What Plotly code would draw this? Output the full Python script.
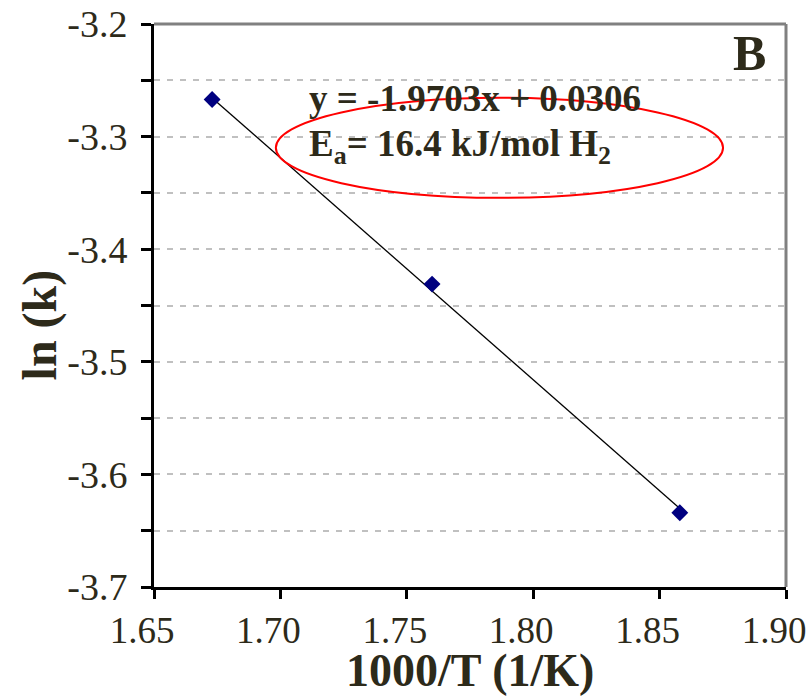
import plotly.graph_objects as go

# Data
inv_T = [1.673, 1.760, 1.858]          # 1000/T (1/K)
ln_k = [-3.267, -3.431, -3.634]        # ln(k)
slope = -1.9703
intercept = 0.0306
eq_text = "y = -1.9703x + 0.0306"
ea_text = "E<sub>a</sub>= 16.4 kJ/mol H<sub>2</sub>"
panel_label = "B"

x_ticks = [1.65, 1.70, 1.75, 1.80, 1.85, 1.90]
x_ticktext = ["1.65", "1.70", "1.75", "1.80", "1.85", "1.90"]
y_ticks = [-3.2, -3.3, -3.4, -3.5, -3.6, -3.7]
y_ticktext = ["-3.2", "-3.3", "-3.4", "-3.5", "-3.6", "-3.7"]

TXT = "#2d2a1a"
SERIF = "Liberation Serif, Times New Roman, serif"

trend_x = [min(inv_T), max(inv_T)]
trend_y = [slope * v + intercept for v in trend_x]

fig = go.Figure()
fig.add_trace(go.Scatter(x=trend_x, y=trend_y, mode="lines",
                         line=dict(color="black", width=1.3),
                         showlegend=False, hoverinfo="skip"))
fig.add_trace(go.Scatter(x=inv_T, y=ln_k, mode="markers",
                         marker=dict(symbol="diamond", size=13, color="#000080"),
                         showlegend=False))

fig.update_layout(
    width=807, height=698,
    margin=dict(l=154, r=21, t=24, b=111),
    paper_bgcolor="white", plot_bgcolor="white",
    font=dict(family=SERIF, color=TXT),
    xaxis=dict(
        range=[1.65, 1.90], tickvals=x_ticks, ticktext=x_ticktext,
        automargin=False,
        showgrid=False, zeroline=False,
        showline=True, linecolor="black", linewidth=2.5,
        ticks="outside", ticklen=9, tickwidth=2.5, tickcolor="black",
        tickfont=dict(size=37, family=SERIF, color=TXT),
        ticklabeloverflow="allow", ticklabelshift=-12, ticklabelstandoff=0,
    ),
    yaxis=dict(
        range=[-3.7, -3.2], tickvals=y_ticks, ticktext=y_ticktext,
        automargin=False,
        showgrid=True, gridcolor="#c0c0c0", gridwidth=2, griddash="6px,7px",
        zeroline=False,
        showline=True, linecolor="black", linewidth=3,
        ticks="outside", ticklen=10, tickwidth=2.5, tickcolor="black",
        tickfont=dict(size=38, family=SERIF, color=TXT),
        ticklabelstandoff=6, ticklabeloverflow="allow",
        minor=dict(dtick=0.05, tick0=-3.2, ticks="outside", ticklen=10, tickwidth=2.5,
                   tickcolor="black", showgrid=True, gridcolor="#c0c0c0", gridwidth=2,
                   griddash="6px,7px"),
    ),
    shapes=[
        dict(type="line", xref="paper", yref="paper", x0=0, x1=1, y0=1, y1=1,
             line=dict(color="#808080", width=3)),
        dict(type="line", xref="paper", yref="paper", x0=1, x1=1, y0=0, y1=1,
             line=dict(color="#808080", width=3)),
        dict(type="circle", xref="x", yref="y", x0=1.6982, x1=1.8751, y0=-3.2655, y1=-3.3544,
             line=dict(color="red", width=2)),
    ],
    annotations=[
        dict(text="<b>1000/T (1/K)</b>", xref="paper", yref="paper", x=0.5, y=-0.197,
             xanchor="center", yanchor="bottom", showarrow=False,
             font=dict(size=46, family=SERIF, color=TXT)),
        dict(text="<b>ln (k)</b>", xref="paper", yref="paper", x=-0.18, y=0.465,
             xanchor="center", yanchor="middle", textangle=-90, showarrow=False,
             font=dict(size=48, family=SERIF, color=TXT)),
        dict(text="<b>" + eq_text + "</b>", xref="x", yref="y", x=1.7104, y=-3.2664,
             xanchor="left", yanchor="middle", showarrow=False,
             font=dict(size=37, family=SERIF, color=TXT)),
        dict(text="<b>" + ea_text + "</b>", xref="x", yref="y", x=1.7104, y=-3.3091,
             xanchor="left", yanchor="middle", showarrow=False,
             font=dict(size=37, family=SERIF, color=TXT)),
        dict(text="<b>" + panel_label + "</b>", xref="paper", yref="paper", x=0.9715, y=0.9485,
             xanchor="right", yanchor="middle", showarrow=False,
             font=dict(size=50, family=SERIF, color=TXT)),
    ],
)

fig.write_html("out.html")
